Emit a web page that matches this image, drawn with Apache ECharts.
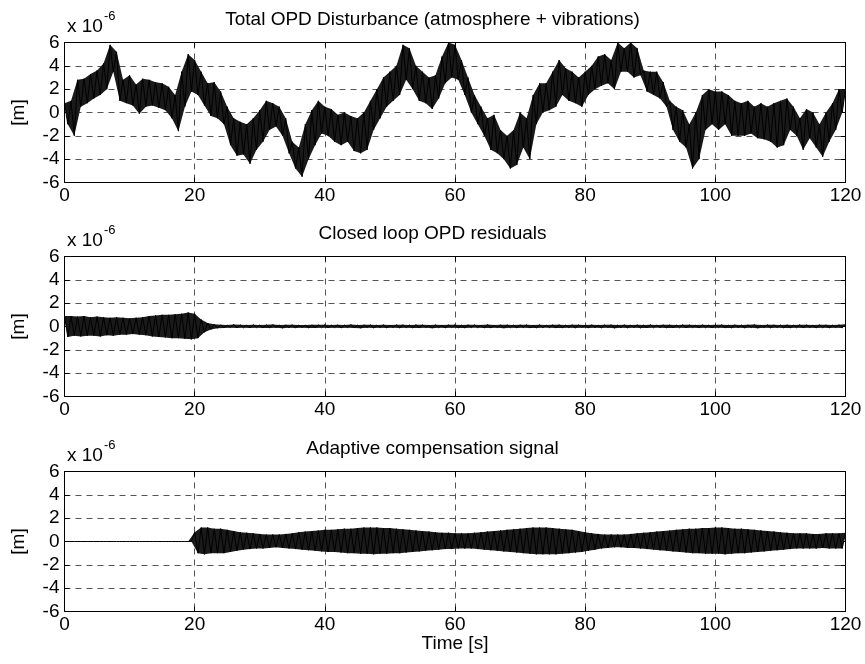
<!DOCTYPE html>
<html>
<head>
<meta charset="utf-8">
<script src="https://cdn.jsdelivr.net/npm/echarts@6/dist/echarts.min.js"></script>
<style>html,body{margin:0;padding:0;background:#fff}#c{width:865px;height:664px}</style>
</head>
<body>
<div id="c"></div>
<script>
// sample times [s] (one envelope reading per second)
const timeSec = [];
for (let s = 0; s <= 120; s++) timeSec.push(s);

const xTicks = [0, 20, 40, 60, 80, 100, 120];
const yTicks = [-6, -4, -2, 0, 2, 4, 6];

const titles = [
  'Total OPD Disturbance (atmosphere + vibrations)',
  'Closed loop OPD residuals',
  'Adaptive compensation signal'
];

// Total disturbance: upper / lower envelope of the fast oscillation (x 1e-6 m)
const distHi = [0.8,1.0,2.8,2.9,3.3,3.6,4.2,5.8,5.2,2.8,3.2,2.4,2.9,2.8,2.6,2.5,2.2,1.5,3.5,5.0,
  4.5,3.5,2.5,2.6,1.8,0.5,-0.5,-0.8,-1.0,-0.5,0.2,1.0,0.8,0.5,-0.5,-2.5,-3.0,-1.0,0.2,1.0,
  0.5,0.3,-0.2,0.0,-0.3,-0.5,0.0,1.0,2.0,3.0,3.5,4.0,5.8,5.5,4.0,3.5,3.0,3.2,4.8,6.0,
  5.8,4.5,3.0,1.5,0.5,-0.5,-0.2,-1.5,-2.0,-1.5,0.0,-0.5,1.5,2.5,2.5,3.5,4.5,3.8,3.5,3.0,
  3.5,4.0,4.8,5.0,4.5,6.0,5.5,6.0,5.5,3.6,3.5,3.5,2.6,1.0,0.5,0.2,-1.0,0.0,1.5,2.0,
  1.8,1.8,1.5,1.0,0.8,1.0,0.5,0.8,0.5,0.8,1.0,1.2,0.5,-0.5,0.3,0.0,-1.0,0.0,0.8,2.0,2.0];
const distLo = [-1.0,-2.0,0.5,0.8,1.2,1.5,2.0,3.5,1.0,0.8,0.6,-0.1,0.5,0.6,0.4,0.2,-0.5,-1.6,0.5,1.8,
  1.5,0.6,-0.3,-0.5,-1.0,-2.8,-3.7,-3.6,-4.4,-3.2,-2.5,-1.5,-1.2,-2.0,-3.5,-4.8,-5.5,-4.0,-2.8,-1.8,
  -2.0,-2.5,-2.8,-2.5,-3.3,-3.5,-3.2,-1.5,-0.5,0.5,1.0,1.5,2.8,2.0,1.0,0.8,0.3,1.2,2.5,3.0,
  2.8,1.5,0.0,-1.0,-2.0,-3.2,-3.5,-4.0,-4.8,-4.5,-3.0,-4.0,-1.0,0.0,0.2,0.5,1.5,1.0,0.8,0.5,
  1.5,2.0,2.3,2.5,2.0,3.5,3.5,3.0,3.2,1.8,1.5,1.2,0.5,-1.5,-2.5,-3.0,-4.8,-4.0,-1.5,-1.0,
  -1.5,-1.0,-2.0,-2.0,-2.0,-1.8,-2.2,-2.3,-2.5,-3.0,-2.8,-1.5,-2.0,-3.2,-2.2,-3.0,-3.8,-2.5,-1.5,0.0,0.5];

// Closed loop residuals envelope (x 1e-6 m)
const resHi = [0.9,0.9,0.85,0.9,0.8,0.85,0.8,0.75,0.8,0.75,0.7,0.75,0.8,0.9,0.95,1.0,1.0,1.05,1.1,1.2,
  1.1,0.6,0.3,0.2,0.15,0.12,0.18,0.14,0.12,0.16,0.13,0.15,0.17,0.12,0.14,0.16,0.13,0.12,0.15,0.14,
  0.16,0.12,0.14,0.13,0.17,0.12,0.15,0.14,0.13,0.16,0.12,0.14,0.15,0.13,0.16,0.14,0.12,0.15,0.13,0.14,
  0.16,0.12,0.15,0.14,0.13,0.17,0.12,0.14,0.15,0.13,0.14,0.16,0.12,0.15,0.13,0.14,0.16,0.12,0.15,0.14,
  0.13,0.15,0.12,0.14,0.16,0.13,0.15,0.12,0.14,0.13,0.16,0.12,0.15,0.14,0.13,0.16,0.14,0.12,0.15,0.13,
  0.14,0.16,0.12,0.15,0.13,0.14,0.17,0.12,0.15,0.14,0.13,0.15,0.12,0.16,0.14,0.13,0.15,0.14,0.12,0.15,0.2];
const resLo = [-0.9,-0.8,-0.85,-0.8,-0.8,-0.85,-0.75,-0.8,-0.7,-0.7,-0.65,-0.7,-0.75,-0.85,-0.9,-0.95,-1.0,-1.0,-1.05,-1.1,
  -1.0,-0.5,-0.25,-0.15,-0.12,-0.1,-0.13,-0.11,-0.12,-0.1,-0.13,-0.12,-0.1,-0.14,-0.11,-0.12,-0.1,-0.13,-0.12,-0.11,
  -0.12,-0.1,-0.13,-0.11,-0.12,-0.14,-0.1,-0.12,-0.11,-0.13,-0.1,-0.12,-0.11,-0.13,-0.12,-0.1,-0.14,-0.11,-0.12,-0.1,
  -0.13,-0.12,-0.1,-0.11,-0.13,-0.12,-0.1,-0.14,-0.11,-0.12,-0.1,-0.13,-0.12,-0.11,-0.1,-0.13,-0.12,-0.11,-0.12,-0.1,
  -0.13,-0.11,-0.12,-0.1,-0.14,-0.11,-0.12,-0.1,-0.13,-0.12,-0.11,-0.1,-0.13,-0.12,-0.11,-0.12,-0.1,-0.13,-0.11,-0.12,
  -0.1,-0.13,-0.12,-0.11,-0.12,-0.1,-0.14,-0.11,-0.12,-0.1,-0.13,-0.12,-0.11,-0.12,-0.1,-0.13,-0.11,-0.12,-0.1,-0.12,-0.1];

// Adaptive compensation envelope (x 1e-6 m), zero before the loop starts at 20 s
const compHi = [0,0,0,0,0,0,0,0,0,0,0,0,0,0,0,0,0,0,0,0,
  0.8,1.2,1.2,1.1,1.1,1.0,0.9,0.8,0.75,0.7,0.65,0.6,0.6,0.6,0.65,0.7,0.8,0.85,0.9,0.95,
  1.0,1.0,1.05,1.1,1.1,1.15,1.2,1.2,1.2,1.15,1.15,1.1,1.05,1.0,0.95,0.9,0.85,0.8,0.75,0.75,
  0.7,0.7,0.7,0.75,0.8,0.85,0.9,0.95,1.0,1.05,1.1,1.15,1.2,1.2,1.2,1.15,1.1,1.05,1.0,0.9,
  0.8,0.7,0.65,0.6,0.6,0.6,0.6,0.65,0.7,0.75,0.8,0.85,0.9,0.95,1.0,1.05,1.1,1.1,1.15,1.15,
  1.2,1.2,1.15,1.1,1.1,1.05,1.0,0.95,0.9,0.85,0.8,0.75,0.7,0.7,0.7,0.65,0.65,0.7,0.7,0.7,0.75];
const compLo = [0,0,0,0,0,0,0,0,0,0,0,0,0,0,0,0,0,0,0,0,
  -1.0,-1.1,-1.0,-1.0,-1.0,-0.9,-0.8,-0.7,-0.65,-0.6,-0.6,-0.55,-0.5,-0.55,-0.6,-0.65,-0.7,-0.75,-0.8,-0.85,
  -0.9,-0.9,-0.95,-1.0,-1.0,-1.05,-1.05,-1.1,-1.05,-1.05,-1.0,-1.0,-0.95,-0.9,-0.85,-0.8,-0.75,-0.7,-0.65,-0.65,
  -0.6,-0.6,-0.6,-0.65,-0.7,-0.75,-0.8,-0.85,-0.9,-0.95,-1.0,-1.05,-1.1,-1.1,-1.1,-1.1,-1.05,-1.0,-0.95,-0.9,
  -0.8,-0.7,-0.6,-0.55,-0.5,-0.5,-0.55,-0.55,-0.6,-0.65,-0.7,-0.75,-0.8,-0.85,-0.9,-0.95,-1.0,-1.0,-1.05,-1.05,
  -1.05,-1.1,-1.05,-1.0,-1.0,-0.95,-0.9,-0.85,-0.8,-0.75,-0.7,-0.65,-0.6,-0.6,-0.6,-0.6,-0.55,-0.6,-0.6,-0.6,-0.65];

function hiPoints(hi) {
  return timeSec.map((t, i) => [t, hi[i]]);
}
function loPoints(lo) {
  const out = [];
  for (let i = 0; i < timeSec.length; i++) {
    if (timeSec[i] + 0.5 <= 120) out.push([timeSec[i] + 0.5, lo[i]]);
  }
  return out;
}
function zigzag(hi, lo) {
  const h = hiPoints(hi), l = loPoints(lo), out = [];
  for (let i = 0; i < h.length; i++) {
    out.push(h[i]);
    if (l[i]) out.push(l[i]);
  }
  return out;
}

const FONT = 'Liberation Sans, Arial, Helvetica, sans-serif';
const FS = 19;
const gridTops = [42.5, 256.5, 471.5];
const gridH = 140;
const gridL = 64.5, gridR = 19.5;

const grids = [], xAxes = [], yAxes = [], series = [], graphics = [];
const envelopes = [[distHi, distLo], [resHi, resLo], [compHi, compLo]];

gridTops.forEach((top, g) => {
  grids.push({ left: gridL, right: gridR, top: top, height: gridH, show: false });
  const split = { show: true, lineStyle: { color: '#555', type: [6, 5], width: 1 } };
  xAxes.push({
    type: 'value', gridIndex: g, min: xTicks[0], max: xTicks[xTicks.length - 1], interval: 20,
    axisLine: { show: true, onZero: false, lineStyle: { color: '#000', width: 1 } },
    axisTick: { show: true, inside: true, length: 5, lineStyle: { color: '#000' } },
    axisLabel: { color: '#000', fontSize: FS, fontFamily: FONT, margin: 4 },
    splitLine: split
  });
  xAxes.push({
    type: 'value', gridIndex: g, position: 'top', min: 0, max: 120, interval: 20,
    axisLine: { show: true, onZero: false, lineStyle: { color: '#000', width: 1 } },
    axisTick: { show: true, inside: true, length: 5, lineStyle: { color: '#000' } },
    axisLabel: { show: false }, splitLine: { show: false }
  });
  yAxes.push({
    type: 'value', gridIndex: g, min: yTicks[0], max: yTicks[yTicks.length - 1], interval: 2,
    axisLine: { show: true, onZero: false, lineStyle: { color: '#000', width: 1 } },
    axisTick: { show: true, inside: true, length: 5, lineStyle: { color: '#000' } },
    axisLabel: { color: '#000', fontSize: FS, fontFamily: FONT, margin: 5 },
    splitLine: split
  });
  yAxes.push({
    type: 'value', gridIndex: g, position: 'right', min: -6, max: 6, interval: 2,
    axisLine: { show: true, onZero: false, lineStyle: { color: '#000', width: 1 } },
    axisTick: { show: true, inside: true, length: 5, lineStyle: { color: '#000' } },
    axisLabel: { show: false }, splitLine: { show: false }
  });
  const hi = envelopes[g][0], lo = envelopes[g][1];
  // filled band between the envelopes (drawn through the axis scales)
  series.push({
    type: 'custom', xAxisIndex: g * 2, yAxisIndex: g * 2, data: [0], silent: true,
    animation: false, z: 2,
    renderItem: function (params, api) {
      const pts = hiPoints(hi).map(p => api.coord(p));
      const lp = loPoints(lo).map(p => api.coord(p)).reverse();
      return {
        type: 'polygon',
        shape: { points: pts.concat(lp) },
        style: { fill: '#1a1a1a', stroke: null }
      };
    }
  });
  series.push({
    type: 'line', xAxisIndex: g * 2, yAxisIndex: g * 2, data: zigzag(hi, lo),
    showSymbol: false, symbol: 'none', animation: false, silent: true, z: 3,
    lineStyle: { color: '#000', width: 1 }
  });
  graphics.push({
    type: 'text', left: 'center', top: top - 32,
    style: { text: titles[g], fill: '#000', font: FS + 'px ' + FONT }
  });
  graphics.push({
    type: 'text', x: 67, y: top - 15.5,
    style: { text: 'x 10', fill: '#000', font: FS + 'px ' + FONT, textVerticalAlign: 'middle' }
  });
  graphics.push({
    type: 'text', x: 104, y: top - 26.5,
    style: { text: '-6', fill: '#000', font: '13px ' + FONT, textVerticalAlign: 'middle' }
  });
  graphics.push({
    type: 'text', x: 19, y: top + gridH / 2, rotation: Math.PI / 2,
    style: { text: '[m]', fill: '#000', font: FS + 'px ' + FONT, textAlign: 'center', textVerticalAlign: 'middle' }
  });
});
graphics.push({
  type: 'text', x: 455, y: 644,
  style: { text: 'Time [s]', fill: '#000', font: FS + 'px ' + FONT, textAlign: 'center', textVerticalAlign: 'middle' }
});

const chart = echarts.init(document.getElementById('c'), null, { renderer: 'canvas' });
chart.setOption({
  animation: false,
  backgroundColor: '#fff',
  grid: grids, xAxis: xAxes, yAxis: yAxes, series: series, graphic: graphics
});
</script>
</body>
</html>
